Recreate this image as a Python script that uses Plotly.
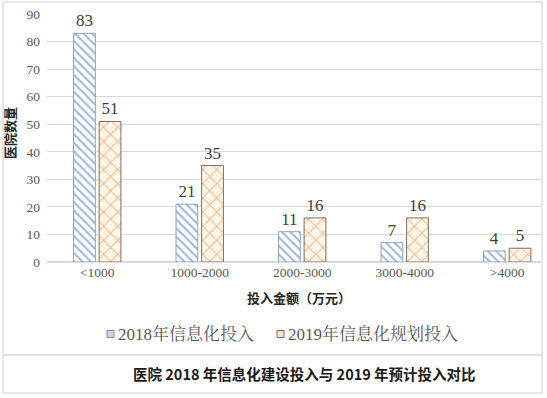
import plotly.graph_objects as go

categories = ["<1000", "1000-2000", "2000-3000", "3000-4000", ">4000"]
invest_2018 = [83, 21, 11, 7, 4]
plan_2019 = [51, 35, 16, 16, 5]
series_names = ["2018年信息化投入", "2019年信息化规划投入"]

W, H = 547, 398
ML, MR, MT, MB = 47, 6, 14, 136
PW, PH = W - ML - MR, H - MT - MB


def px(x):
    return (x - ML) / PW


def py(y):
    return (H - MB - y) / PH


serif = "Liberation Serif, Noto Serif CJK SC, Noto Sans CJK SC, serif"
cjk_bold = "Noto Sans CJK SC, sans-serif"

fig = go.Figure()
fig.add_trace(go.Bar(
    x=categories, y=invest_2018, name=series_names[0],
    text=invest_2018, textposition="outside",
    textfont=dict(family=serif, size=17, color="#404040"),
    marker=dict(color="white", line=dict(color="#8ea2bf", width=1),
                pattern=dict(shape="\\", fgcolor="#9fb8dc", bgcolor="white",
                             size=6, solidity=0.35, fillmode="replace")),
    cliponaxis=False, showlegend=False, hoverinfo="skip",
))
fig.add_trace(go.Bar(
    x=categories, y=plan_2019, name=series_names[1],
    text=plan_2019, textposition="outside",
    textfont=dict(family=serif, size=17, color="#404040"),
    marker=dict(color="white", line=dict(color="#7d6e64", width=1),
                pattern=dict(shape="x", fgcolor="#f3b988", bgcolor="#fff6ea",
                             size=10, solidity=0.2, fillmode="replace")),
    cliponaxis=False, showlegend=False, hoverinfo="skip",
))

legend_y = py(334)
legend_items = [
    dict(sq=(107, 114), text_x=116, fill="#c9d6ea", line="#7f8fa8", name=series_names[0]),
    dict(sq=(277, 284), text_x=286, fill="#fbe1c8", line="#7d6e64", name=series_names[1]),
]

annotations = [
    dict(text="<b>投入金额（万元）</b>", xref="paper", yref="paper",
         x=px(299), y=py(297), showarrow=False, xanchor="center", yanchor="middle",
         font=dict(family=cjk_bold, size=13, color="#262626")),
    dict(text="<b>医院数量</b>", xref="paper", yref="paper", textangle=-90,
         x=px(9), y=py(133), showarrow=False, xanchor="center", yanchor="middle",
         font=dict(family=cjk_bold, size=13, color="#262626")),
    dict(text="<b>医院 2018 年信息化建设投入与 2019 年预计投入对比</b>", xref="paper", yref="paper",
         x=px(304), y=py(373), showarrow=False, xanchor="center", yanchor="middle",
         font=dict(family=cjk_bold, size=14.5, color="#1a1a1a")),
]
shapes = [
    dict(type="rect", xref="paper", yref="paper", x0=px(3), x1=px(542), y0=py(393), y1=py(2),
         line=dict(color="#dedede", width=1.5), layer="below"),
    dict(type="line", xref="paper", yref="paper", x0=px(3), x1=px(542), y0=py(355), y1=py(355),
         line=dict(color="#d9d9d9", width=1.5)),
]
for item in legend_items:
    x0, x1 = item["sq"]
    shapes.append(dict(type="rect", xref="paper", yref="paper",
                       x0=px(x0), x1=px(x1), y0=py(337.5), y1=py(330.5),
                       fillcolor=item["fill"], line=dict(color=item["line"], width=1)))
    annotations.append(dict(text=item["name"], xref="paper", yref="paper",
                            x=px(item["text_x"]), y=legend_y, showarrow=False,
                            xanchor="left", yanchor="middle",
                            font=dict(family=serif, size=17, color="#595959")))

fig.update_layout(
    width=W, height=H,
    margin=dict(l=ML, r=MR, t=MT, b=MB, autoexpand=False),
    paper_bgcolor="white", plot_bgcolor="white",
    barmode="group", bargap=0.5, bargroupgap=0.15,
    showlegend=False, hovermode=False,
    xaxis=dict(range=[-0.49, 4.33], showgrid=False, showline=False, ticks="",
               tickfont=dict(family=serif, size=13.5, color="#595959"), automargin=False),
    yaxis=dict(range=[0, 90], dtick=10, showgrid=True, gridcolor="#d9d9d9", gridwidth=1,
               zeroline=True, zerolinecolor="#d9d9d9", showline=False, ticks="",
               tickfont=dict(family=serif, size=13.5, color="#595959"), ticklabelstandoff=6,
               automargin=False),
    annotations=annotations,
    shapes=shapes,
)

fig.write_html("out.html", config={"displayModeBar": False, "staticPlot": True},
               post_script="document.body.style.margin='0';document.body.style.overflow='hidden';")
